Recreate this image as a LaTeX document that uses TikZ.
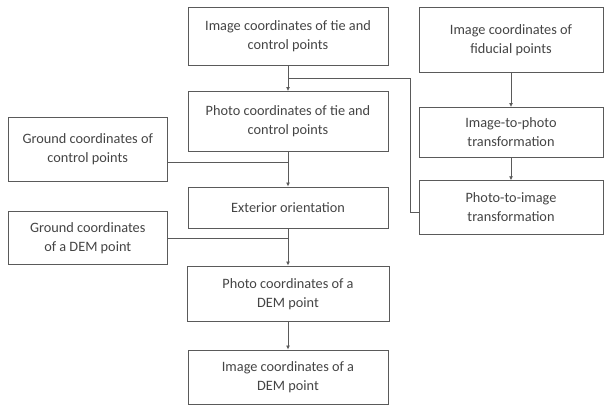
\documentclass[tikz,border=0pt]{standalone}
\usepackage{fontspec}
\setmainfont{Carlito}
\usepackage{tikz}
\usetikzlibrary{arrows.meta, calc}

\definecolor{boxgray}{HTML}{5A5A5A}
\definecolor{textgray}{HTML}{444444}

\begin{document}
\begin{tikzpicture}[x=1pt, y=1pt,
        box/.style={draw=boxgray, line width=0.9pt, align=center, inner sep=0pt,
            text=textgray, font=\fontsize{14.3}{19}\selectfont},
        link/.style={draw=boxgray, line width=0.9pt},
        flow/.style={link, -{Latex[length=4pt, width=4pt]}}]
        \useasboundingbox (0, 0) rectangle (605, 406);

        \coordinate (a) at (288, 369.75);
        \coordinate (b) at (511, 366);
        \coordinate (c) at (288, 284.5);
        \coordinate (d) at (511, 273.5);
        \coordinate (e) at (87.75, 256.5);
        \coordinate (f) at (288, 198.5);
        \coordinate (g) at (511, 198.5);
        \coordinate (h) at (87.75, 167.7);
        \coordinate (i) at (288, 112.25);
        \coordinate (j) at (288, 29);

        \node[box, minimum width=200, minimum height=57.5] (imgtie) at (a) {Image coordinates of tie and\\control points};
        \node[box, minimum width=184, minimum height=65] (imgfid) at (b) {Image coordinates of\\fiducial points};
        \node[box, minimum width=200, minimum height=60] (phototie) at (c) {Photo coordinates of tie and\\control points};
        \node[box, minimum width=184, minimum height=50] (imgtophoto) at (d) {Image-to-photo\\transformation};
        \node[box, minimum width=159, minimum height=64.5] (groundctrl) at (e) {Ground coordinates of\\control points};
        \node[box, minimum width=200, minimum height=41] (extor) at (f) {Exterior orientation};
        \node[box, minimum width=184, minimum height=53.5] (phototoimg) at (g) {Photo-to-image\\transformation};
        \node[box, minimum width=159, minimum height=53] (grounddem) at (h) {Ground coordinates\\of a DEM point};
        \node[box, minimum width=202, minimum height=55.5] (photodem) at (i) {Photo coordinates of a\\DEM point};
        \node[box, minimum width=200, minimum height=54] (imgdem) at (j) {Image coordinates of a\\DEM point};

        % tie and control points
        \draw[flow] (imgtie.south) -- (phototie.north);
        \coordinate (split) at ($(imgtie.south)!0.5!(phototie.north)$);
        \coordinate (bend) at (410.7, 193.3);
        \draw[link] (split) -| (bend) -- (bend -| phototoimg.west);

        % fiducial points
        \draw[flow] (imgfid.south) -- (imgtophoto.north);
        \draw[flow] (imgtophoto.south) -- (phototoimg.north);

        % exterior orientation
        \coordinate (ctrljoin) at (288, 243.3);
        \draw[flow] (phototie.south) -- (extor.north);
        \draw[link] (groundctrl.east |- ctrljoin) -- (ctrljoin);

        % DEM point
        \draw[flow] (extor.south) -- (photodem.north);
        \draw[link] (grounddem.east) -- (grounddem.east -| extor.south);
        \draw[flow] (photodem.south) -- (imgdem.north);
    \end{tikzpicture}
\end{document}
